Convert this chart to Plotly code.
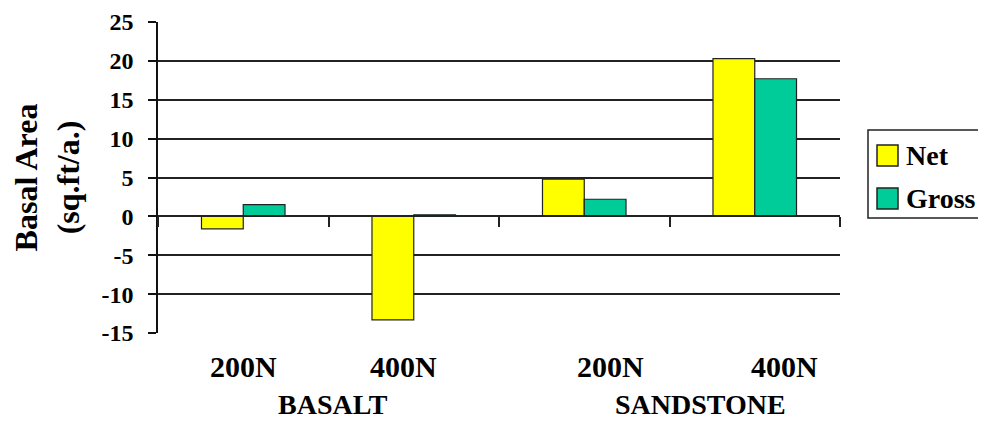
import plotly.graph_objects as go

# ---- data ----
categories = ["BASALT 200N", "BASALT 400N", "SANDSTONE 200N", "SANDSTONE 400N"]
cat_labels = ["200N", "400N", "200N", "400N"]
group_labels = ["BASALT", "SANDSTONE"]
series_names = ["Net", "Gross"]
net = [-1.6, -13.3, 4.8, 20.3]
gross = [1.5, 0.2, 2.2, 17.7]
y_ticks = [-15, -10, -5, 0, 5, 10, 15, 20, 25]

FONT = "Liberation Serif, Times New Roman, serif"
COLORS = ["#FFFF00", "#00CC99"]
EDGE = "#222222"

# plot-area geometry (figure pixels) used to place the free-standing text/legend
PX0, PW, PY0, PH = 150.0, 682.0, 14.0, 311.0
def px(x):
    return (x - PX0) / PW
def py(y):
    return (PY0 + PH - y) / PH

fig = go.Figure()
for name, vals, col in zip(series_names, [net, gross], COLORS):
    fig.add_trace(go.Bar(
        x=categories, y=vals, name=name, showlegend=False,
        marker=dict(color=col, line=dict(color=EDGE, width=1.2)),
    ))

# category labels (offsets reproduce the reference placement)
label_shift = [0, -10, 26, 30]
for i, (c, t) in enumerate(zip(categories, cat_labels)):
    fig.add_annotation(x=c, y=py(358), xref="x", yref="paper", text=t,
                       showarrow=False, xshift=label_shift[i],
                       font=dict(family=FONT, size=30, color="black", weight="bold"),
                       xanchor="center", yanchor="middle")
group_pos = [(0.5, 4), (2.5, 31)]
for (gx, sh), t in zip(group_pos, group_labels):
    fig.add_annotation(x=gx, y=py(397), xref="x", yref="paper", text=t,
                       showarrow=False, xshift=sh,
                       font=dict(family=FONT, size=28, color="black", weight="bold"),
                       xanchor="center", yanchor="middle")

# legend box (drawn in paper coordinates, to the right of the plot)
fig.add_shape(type="rect", xref="paper", yref="paper",
              x0=px(860), x1=px(990), y0=py(210), y1=py(122),
              line=dict(color=EDGE, width=1.5), fillcolor="white")
for k, (name, col) in enumerate(zip(series_names, COLORS)):
    top = 137 + k * 43
    fig.add_shape(type="rect", xref="paper", yref="paper",
                  x0=px(869), x1=px(890), y0=py(top + 21), y1=py(top),
                  line=dict(color=EDGE, width=1.5), fillcolor=col)
    fig.add_annotation(x=px(896), y=py(top + 10.5), xref="paper", yref="paper",
                       text=name, showarrow=False, xanchor="left", yanchor="middle",
                       font=dict(family=FONT, size=28, color="black", weight="bold"))

fig.update_layout(
    width=978, height=414,
    margin=dict(l=150, r=146, t=14, b=89, autoexpand=False),
    paper_bgcolor="white", plot_bgcolor="white",
    barmode="group", bargap=0.51, bargroupgap=0,
    font=dict(family=FONT, color="black"),
    showlegend=False,
)
fig.update_xaxes(
    type="category", range=[-0.5, 3.5],
    anchor="free", position=15 / 40,
    showline=True, linecolor=EDGE, linewidth=1.5,
    ticks="outside", tickson="boundaries", ticklen=10, tickcolor=EDGE, tickwidth=1.5,
    showticklabels=False, showgrid=False, zeroline=False,
)
fig.update_yaxes(
    range=[-15, 25.001], tickvals=y_ticks, ticktext=[str(v) for v in y_ticks],
    showline=True, linecolor="#111111", linewidth=1.5,
    ticks="outside", ticklen=8, tickcolor="#111111", tickwidth=1.5,
    showgrid=True, gridcolor="#222222", gridwidth=1.5, zeroline=False,
    tickfont=dict(family=FONT, size=24, color="black", weight="bold"),
    ticklabelstandoff=10, ticklabeloverflow="allow",
    title=dict(text="Basal Area<br>(sq.ft/a.)", standoff=18,
               font=dict(family=FONT, size=32, color="black", weight="bold")),
)

fig.write_html("out.html")
